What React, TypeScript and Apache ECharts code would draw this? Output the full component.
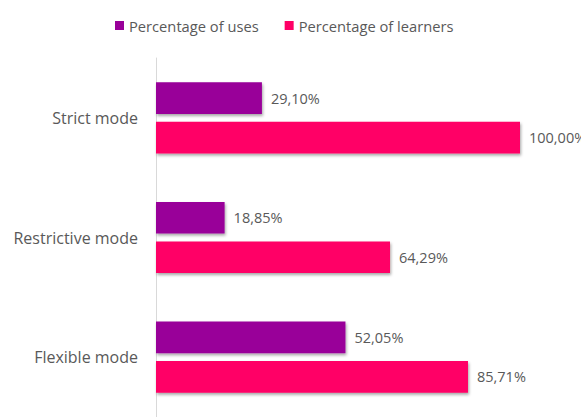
import React, { useEffect, useRef } from "react";
import * as echarts from "echarts";

const categories = ["Strict mode", "Restrictive mode", "Flexible mode"];
const usesValues = [29.1, 18.85, 52.05];
const learnersValues = [100.0, 64.29, 85.71];
const seriesNames = ["Percentage of uses", "Percentage of learners"];

const FONT = "Open Sans";
const TEXT = "#595959";

const fmt = (v: number) => v.toFixed(2).replace(".", ",") + "%";

export default function App() {
  const ref = useRef<HTMLDivElement>(null);
  useEffect(() => {
    if (!ref.current) return;
    const chart = echarts.init(ref.current, undefined, { renderer: "svg" });
    const shadow = {
      shadowBlur: 3,
      shadowOffsetX: 1,
      shadowOffsetY: 2,
      shadowColor: "rgba(0,0,0,0.35)",
    };
    const label = {
      show: true,
      position: "right",
      distance: 9,
      color: TEXT,
      fontFamily: FONT,
      fontSize: 14.5,
      formatter: (p: any) => fmt(p.value),
    };
    chart.setOption({
      animation: false,
      legend: {
        top: 13,
        left: 110,
        itemWidth: 9,
        itemHeight: 9,
        itemGap: 26,
        icon: "rect",
        textStyle: { color: TEXT, fontFamily: FONT, fontSize: 14.7 },
        data: seriesNames,
      },
      grid: { left: 156, right: 61, top: 58, height: 365, containLabel: false },
      xAxis: {
        type: "value",
        min: 0,
        max: 100,
        show: false,
      },
      yAxis: {
        type: "category",
        data: categories,
        inverse: true,
        axisLine: { show: true, lineStyle: { color: "#d9d9d9", width: 1 } },
        axisTick: { show: false },
        axisLabel: { color: TEXT, fontFamily: FONT, fontSize: 16, margin: 18 },
      },
      series: [
        {
          name: seriesNames[0],
          type: "bar",
          data: usesValues,
          barWidth: 31.6,
          barGap: "25%",
          itemStyle: { color: "#990099", ...shadow },
          label,
        },
        {
          name: seriesNames[1],
          type: "bar",
          data: learnersValues,
          barWidth: 31.6,
          barGap: "25%",
          itemStyle: { color: "#FF0066", ...shadow },
          label,
        },
      ],
    });
    return () => chart.dispose();
  }, []);
  return (
    <div
      ref={ref}
      style={{ position: "absolute", left: 0, top: 0, width: 581, height: 417, background: "#fff" }}
    />
  );
}
